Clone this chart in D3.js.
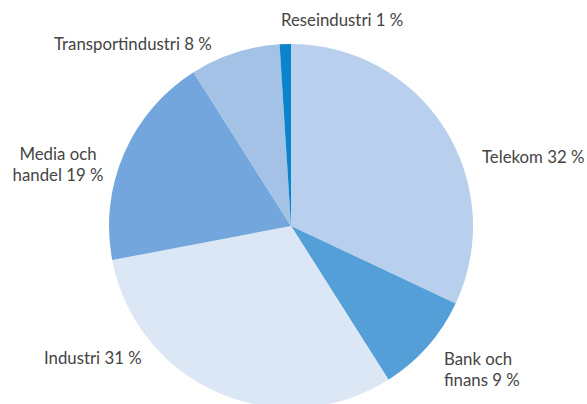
<!DOCTYPE html>
<html><head><meta charset="utf-8">
<script src="https://cdn.jsdelivr.net/npm/d3@7"></script>
<style>body{margin:0;background:#fff}svg{display:block}text{font-family:Lato,"Open Sans",sans-serif;font-size:16.8px;font-weight:400;fill:#444}</style>
</head><body><svg id="c" width="587" height="404"></svg>
<script>
const categories = ["Telekom", "Bank och finans", "Industri", "Media och handel", "Transportindustri", "Reseindustri"];
const values = [32, 9, 31, 19, 8, 1];
const colors = ["#b8cfed", "#549fd8", "#dce7f6", "#72a6dc", "#a4c2e6", "#0a84cc"];
const labelLines = [["Telekom 32 %"], ["Bank och", "finans 9 %"], ["Industri 31 %"], ["Media och", "handel 19 %"], ["Transportindustri 8 %"], ["Reseindustri 1 %"]];

const svg = d3.select("#c");
const cx = 291, cy = 226, r = 182;
const pie = d3.pie().sort(null).value(d => d)(values);
const arc = d3.arc().innerRadius(0).outerRadius(r);
const g = svg.append("g").attr("transform", `translate(${cx},${cy})`);
g.selectAll("path").data(pie).join("path").attr("d", arc).attr("fill", (d, i) => colors[i]);

const lp = [
  {x: 482, y: 163, a: "start"},
  {x: 444, y: 365, a: "start"},
  {x: 44, y: 364, a: "start"},
  {x: 58, y: 160, a: "middle"},
  {x: 54, y: 50, a: "start"},
  {x: 281, y: 26, a: "start"}
];
labelLines.forEach((lines, i) => {
  const t = svg.append("text").attr("x", lp[i].x).attr("y", lp[i].y).attr("text-anchor", lp[i].a);
  lines.forEach((l, j) => t.append("tspan").attr("x", lp[i].x).attr("dy", j ? 21 : 0).text(l));
});
</script></body></html>
